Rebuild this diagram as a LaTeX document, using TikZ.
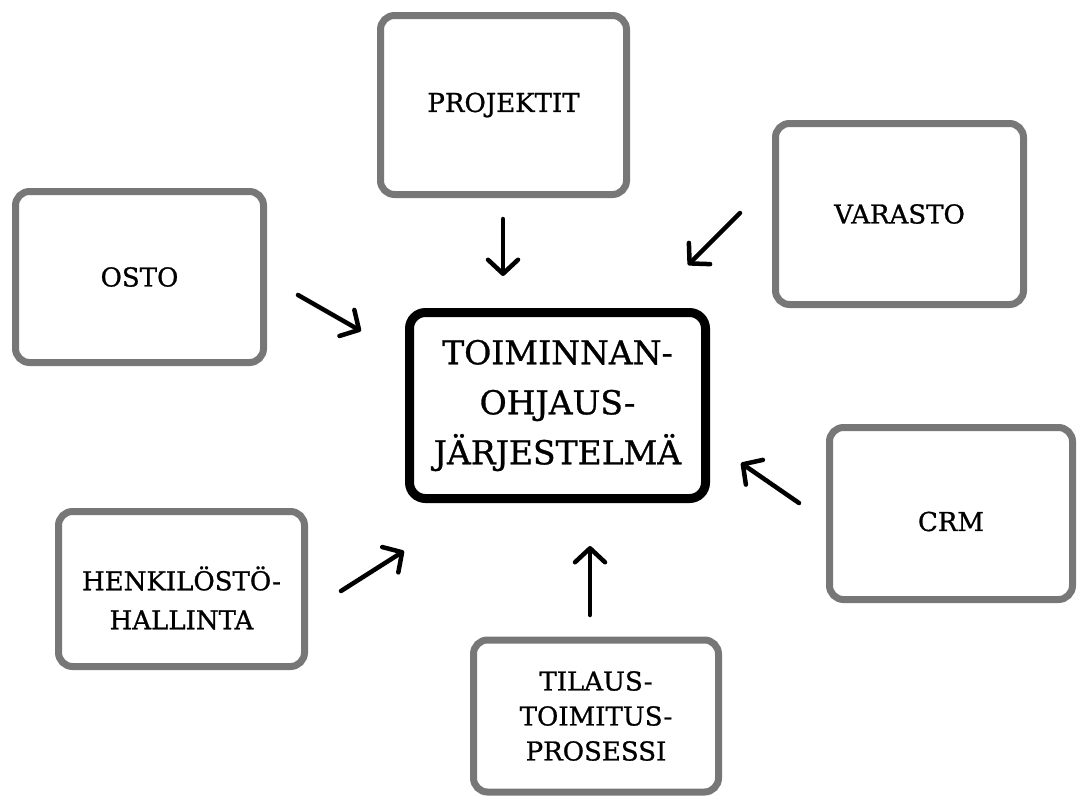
\documentclass[tikz,border=0pt]{standalone}
\usepackage{fontspec}
\setmainfont{DejaVu Serif}[FakeBold=0.9]
\usetikzlibrary{arrows.meta}
\definecolor{boxgray}{HTML}{777777}
\begin{document}
\begin{tikzpicture}[x=1pt,y=-1pt,
  sidebox/.style={draw=boxgray, line width=7pt, rounded corners=14pt, fill=white, inner sep=0pt},
  sidetext/.style={align=center, inner sep=0pt, font=\fontsize{26}{36}\selectfont},
  mainbox/.style={draw=black, line width=9pt, rounded corners=16pt, fill=white, align=center, inner sep=0pt, font=\fontsize{33}{50}\selectfont},
  conn/.style={line width=4.5pt, line cap=round, line join=round, -{Straight Barb[length=14pt,width=30pt,line cap=round,line join=round]}}]
\useasboundingbox (0,0) rectangle (1079,798);
\node[mainbox, minimum width=296pt, minimum height=186pt] (main) at (557.5,405.5) {TOIMINNAN-\\OHJAUS-\\JÄRJESTELMÄ};
\node[sidebox, minimum width=246pt, minimum height=179pt] (proj) at (503.5,105) {};
\node[sidebox, minimum width=248pt, minimum height=181pt] (var) at (899.5,214) {};
\node[sidebox, minimum width=248pt, minimum height=171pt] (osto) at (139.5,277) {};
\node[sidebox, minimum width=243pt, minimum height=172pt] (crm) at (951,513.5) {};
\node[sidebox, minimum width=246pt, minimum height=155pt] (henk) at (181.5,589) {};
\node[sidebox, minimum width=245pt, minimum height=152pt] (til) at (596,716) {};
\node[sidetext] (projt) at (proj.center) {PROJEKTIT};
\node[sidetext] (vart) at (var.center) {VARASTO};
\node[sidetext] (ostot) at (osto.center) {OSTO};
\node[sidetext] (crmt) at ([yshift=-8pt]crm.center) {CRM};
\node[sidetext, font=\fontsize{26}{39}\selectfont] (henkt) at ([yshift=-9pt]henk.center) {HENKILÖSTÖ-\\HALLINTA};
\node[sidetext, font=\fontsize{26}{35}\selectfont] (tilt) at (til.center) {TILAUS-\\TOIMITUS-\\PROSESSI};
\coordinate (a1s) at (503,219); \coordinate (a1e) at (503,276);
\coordinate (a2s) at (740,213); \coordinate (a2e) at (688,265);
\coordinate (a3s) at (298,295); \coordinate (a3e) at (361,331);
\coordinate (a4s) at (799,503); \coordinate (a4e) at (741,463);
\coordinate (a5s) at (341,591); \coordinate (a5e) at (404,551);
\coordinate (a6s) at (590,615); \coordinate (a6e) at (590,546);
\draw[conn] (a1s) -- (a1e);
\draw[conn] (a2s) -- (a2e);
\draw[conn] (a3s) -- (a3e);
\draw[conn] (a4s) -- (a4e);
\draw[conn] (a5s) -- (a5e);
\draw[conn] (a6s) -- (a6e);
\end{tikzpicture}
\end{document}
